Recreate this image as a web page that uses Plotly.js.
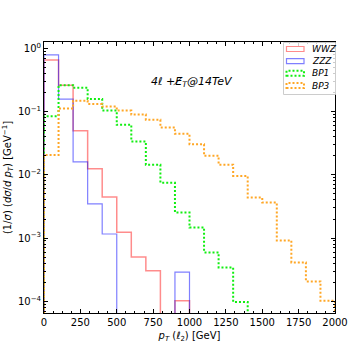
<!DOCTYPE html>
<html>
<head>
<meta charset="utf-8">
<script src="https://cdn.plot.ly/plotly-3.0.1.min.js"></script>
<style>html,body{margin:0;padding:0;background:#fff;}#chart{width:354px;height:354px;}</style>
</head>
<body>
<div id="chart"></div>
<script>
// ---- data ----
const binEdges = [0,100,200,300,400,500,600,700,800,900,1000,1100,1200,1300,1400,1500,1600,1700,1800,1900,2000];
const seriesNames = ["WWZ", "ZZZ", "BP1", "BP3"];
const wwz = [0.656,0.261,0.0496,0.01245,0.00444,0.00124,0.0005,0.000304,0,0.000102,0,0,0,0,0,0,0,0,0,0];
const zzz = [0.787,0.157,0.016,0.00348,0.00116,0,0,0,0,0.00029,0,0,0,0,0,0,0,0,0,0];
const bp1 = [0.0846,0.261,0.239,0.158,0.104,0.0617,0.0336,0.0144,0.0075,0.00254,0.00147,0.000593,0.000343,0.0000977,0,0,0,0,0,0];
const bp3 = [0.0205,0.1116,0.1476,0.132,0.120,0.1037,0.0897,0.074,0.056,0.0445,0.0305,0.020,0.0144,0.0096,0.00438,0.00365,0.000916,0.000412,0.000206,0.000102];
const yTickVals = [1, 0.1, 0.01, 0.001, 0.0001];
const yTickText = ["10<sup>0</sup>", "10<sup>−1</sup>", "10<sup>−2</sup>", "10<sup>−3</sup>", "10<sup>−4</sup>"];

// ---- helpers ----
const FLOOR = 1e-9; // empty bins drawn down past the axis, as a step histogram does
function stepTrace(vals, name, line) {
  const x = [binEdges[0]], y = [FLOOR];
  for (let i = 0; i < vals.length; i++) { x.push(binEdges[i]); y.push(vals[i] > 0 ? vals[i] : FLOOR); }
  x.push(binEdges[binEdges.length - 1]); y.push(vals[vals.length - 1] > 0 ? vals[vals.length - 1] : FLOOR);
  x.push(binEdges[binEdges.length - 1]); y.push(FLOOR);
  return {x, y, type: 'scatter', mode: 'lines', name, line: Object.assign({shape: 'hv'}, line), showlegend: false, hoverinfo: 'skip'};
}
const styles = [
  {color: 'rgba(255,0,0,0.45)', width: 1.5},
  {color: 'rgba(0,0,255,0.5)', width: 1.2},
  {color: '#11ee11', width: 2, dash: '2px,2px'},
  {color: '#ffa726', width: 2, dash: '2px,2px'}
];
const data = [wwz, zzz, bp1, bp3].map((v, i) => stepTrace(v, seriesNames[i], styles[i]));

// minor ticks for log axis
const yMinor = [];
for (let d = -5; d <= 0; d++) for (let k = 2; k <= 9; k++) yMinor.push(k * Math.pow(10, d));

// geometry
const W = 354, H = 354, L = 44, R = 19, T = 42, B = 41;
const pw = W - L - R, ph = H - T - B;
const px = x => (x - L) / pw, py = y => (H - B - y) / ph;

const shapes = [], annotations = [];
// legend box
shapes.push({type: 'rect', xref: 'paper', yref: 'paper', x0: px(283.5), x1: px(335.5), y0: py(94.5), y1: py(42.5),
  line: {color: '#cccccc', width: 1}, fillcolor: 'rgba(255,255,255,0.8)', layer: 'above'});
const rowY = [49, 61.2, 73.2, 85.6];
seriesNames.forEach((n, i) => {
  shapes.push({type: 'rect', xref: 'paper', yref: 'paper', x0: px(286.5), x1: px(304), y0: py(rowY[i] + 2.5), y1: py(rowY[i] - 2.5),
    line: {color: styles[i].color, width: i < 2 ? 1.2 : 2, dash: styles[i].dash || 'solid'}, fillcolor: 'rgba(0,0,0,0)', layer: 'above'});
  annotations.push({xref: 'paper', yref: 'paper', x: px(310), y: py(rowY[i]), xanchor: 'left', yanchor: 'middle',
    text: '<i>' + n + '</i>', showarrow: false, font: {family: 'DejaVu Sans', size: 9, color: '#000'}});
});
annotations.push({xref: 'paper', yref: 'paper', x: px(192), y: py(82), xanchor: 'center', yanchor: 'middle',
  text: '<i>4ℓ +E̸<sub>T</sub>@14TeV</i>', showarrow: false, font: {family: 'DejaVu Sans', size: 11, color: '#000'}});

const layout = {
  width: W, height: H,
  margin: {l: L, r: R, t: T, b: B, pad: 0},
  paper_bgcolor: '#fff', plot_bgcolor: '#fff',
  font: {family: 'DejaVu Sans', size: 10, color: '#000'},
  showlegend: false,
  xaxis: {
    range: [0, 2000], tick0: 0, dtick: 250, ticks: 'inside', ticklen: 4, tickcolor: '#000', tickwidth: 1,
    showline: true, linecolor: '#000', linewidth: 1, mirror: 'allticks', showgrid: false, zeroline: false,
    minor: {tick0: 0, dtick: 62.5, ticks: 'inside', ticklen: 2, tickcolor: '#000', showgrid: false},
    tickfont: {size: 10},
    title: {text: '<i>p</i><sub><i>T</i></sub> (<i>ℓ</i><sub>2</sub>) [GeV]', font: {size: 10}, standoff: 4}
  },
  yaxis: {
    type: 'log', range: [-4.185, 0.10], tickmode: 'array', tickvals: yTickVals, ticktext: yTickText,
    ticks: 'inside', ticklen: 4, tickcolor: '#000', tickwidth: 1,
    showline: true, linecolor: '#000', linewidth: 1, mirror: 'allticks', showgrid: false, zeroline: false,
    minor: {tickmode: 'array', tickvals: yMinor, ticks: 'inside', ticklen: 2, tickcolor: '#000', showgrid: false},
    tickfont: {size: 10},
    title: {text: '(1/<i>σ</i>) (<i>dσ</i>/<i>d p</i><sub><i>T</i></sub>) [GeV<sup>−1</sup>]', font: {size: 10}, standoff: 4}
  },
  shapes, annotations
};
Plotly.newPlot('chart', data, layout, {staticPlot: true, displayModeBar: false});
</script>
</body>
</html>
